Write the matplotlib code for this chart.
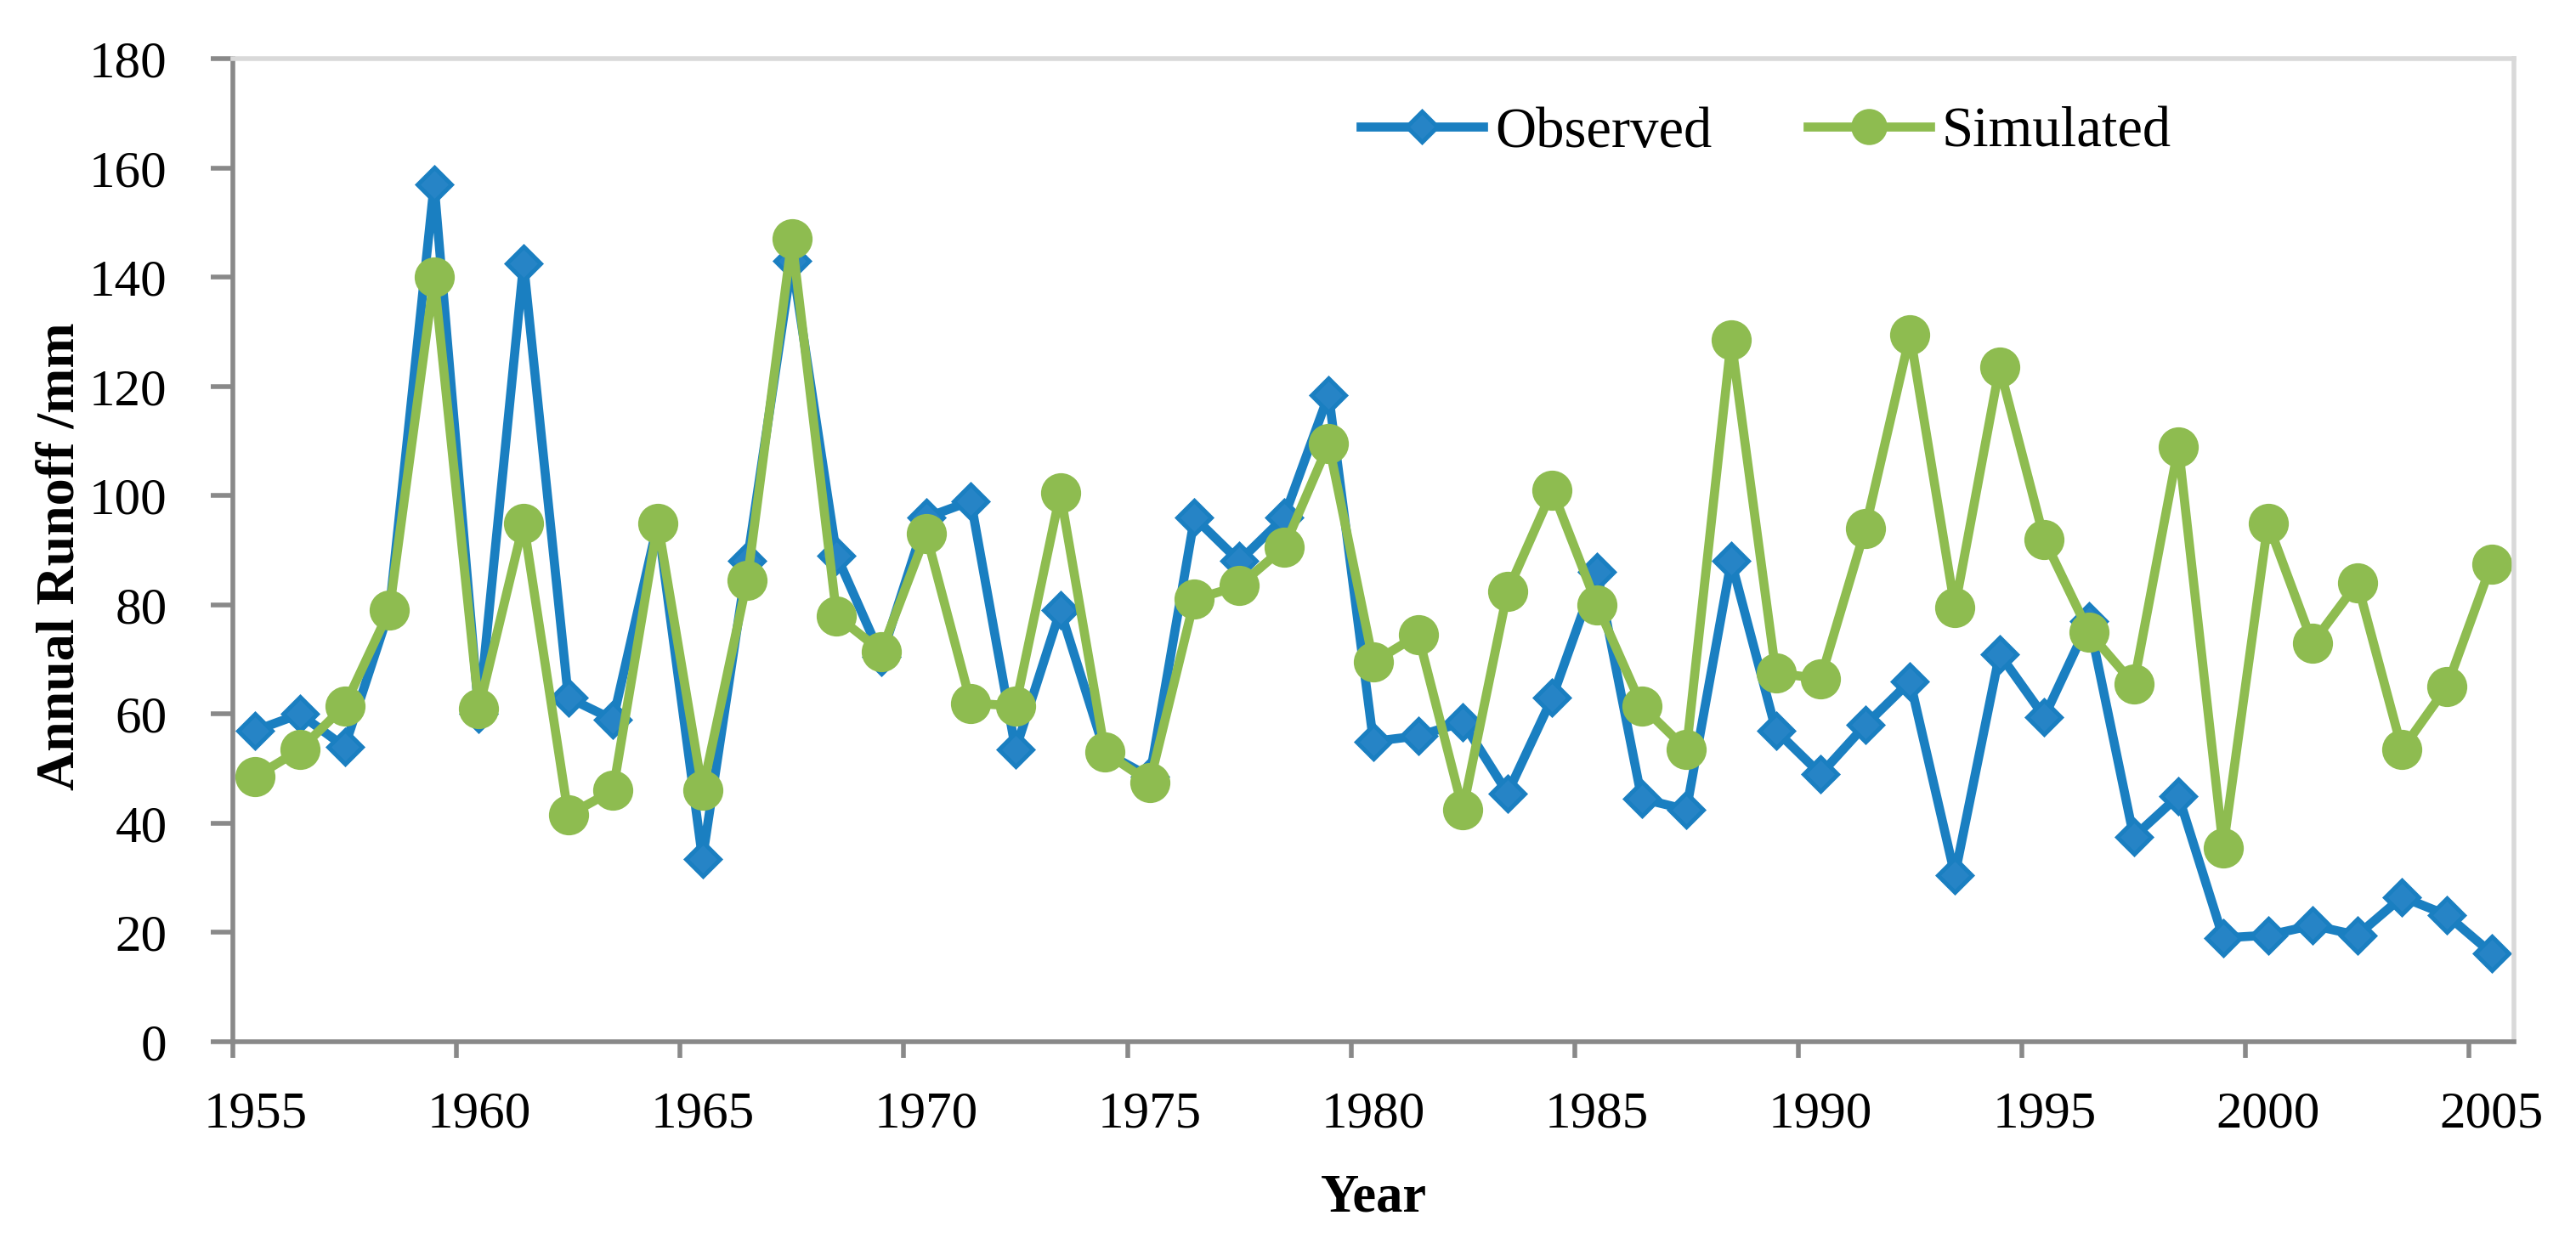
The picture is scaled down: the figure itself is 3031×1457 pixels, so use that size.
import matplotlib
matplotlib.use("Agg")
import matplotlib.pyplot as plt
from matplotlib.ticker import FixedLocator, FixedFormatter, NullFormatter

plt.rcParams['font.family'] = ['Liberation Serif', 'DejaVu Serif']

# Annual runoff (mm)
years = list(range(1955, 2006))
observed = [57, 60, 54, 79, 157, 60, 142.5, 63, 59, 95,
            33.5, 88, 143, 89, 70.5, 96, 99, 53.5, 79, 53,
            48.5, 96, 88, 96, 118.5, 55, 56, 58.5, 45.5, 63,
            86, 44.5, 42.5, 88, 57, 49, 58, 66, 30.5, 71,
            59.5, 77, 37.5, 45, 19, 19.5, 21.3, 19.5, 26.5, 23.2,
            16.2]
simulated = [48.5, 53.5, 61.5, 79, 140, 61, 95, 41.5, 46, 95,
             46, 84.5, 147, 78, 71.5, 93, 62, 61.5, 100.5, 53,
             47.5, 81, 83.5, 90.5, 109.5, 69.5, 74.5, 42.5, 82.5, 101,
             80, 61.5, 53.5, 128.5, 67.5, 66.5, 94, 129.5, 79.5, 123.5,
             92, 75, 65.5, 109, 35.5, 95, 73, 84, 53.5, 65,
             87.5]
label_years = [1955, 1960, 1965, 1970, 1975, 1980, 1985, 1990, 1995, 2000, 2005]

blue = '#1A7FC1'
green = '#8EBC50'
axis_grey = '#898989'

fig = plt.figure(figsize=(15.155, 7.285), dpi=200)
ax = fig.add_axes([0.0904, 0.1586, 0.8855, 0.7938])

ax.plot(years, observed, color=blue, lw=3.85, marker='D', ms=10.2,
        mfc='#2684C6', mec=blue, mew=1.8, label='Observed')
ax.plot(years, simulated, color=green, lw=3.85, marker='o', ms=17,
        mfc=green, mec=green, mew=0, label='Simulated')

ax.set_xlim(years[0] - 0.5, years[-1] + 0.5)
ax.set_ylim(0, 180)

# category-style x axis: tick marks between categories, labels on categories
ax.xaxis.set_major_locator(FixedLocator([y - 0.5 for y in label_years]))
ax.xaxis.set_major_formatter(NullFormatter())
ax.xaxis.set_minor_locator(FixedLocator(label_years))
ax.xaxis.set_minor_formatter(FixedFormatter([str(y) for y in label_years]))
ax.tick_params(axis='x', which='major', direction='out', length=7,
               width=2, color=axis_grey)
ax.tick_params(axis='x', which='minor', length=0, pad=21, labelsize=22)

ax.set_yticks(range(0, 181, 20))
ax.tick_params(axis='y', direction='out', length=9.4, width=2,
               color=axis_grey, pad=18.5, labelsize=22)

for side in ['left', 'bottom']:
    ax.spines[side].set_color(axis_grey)
    ax.spines[side].set_linewidth(2)
for side in ['top', 'right']:
    ax.spines[side].set_color('#D9D9D9')
    ax.spines[side].set_linewidth(2)

fig.text(87 / 3031, 1 - 655 / 1457, 'Annual Runoff /mm', rotation=90,
         rotation_mode='anchor', ha='center', va='baseline',
         fontsize=23, fontweight='bold')
fig.text(0.5332, 1 - 1425 / 1457, 'Year', ha='center', va='baseline',
         fontsize=22.5, fontweight='bold')

ax.legend(loc='center', bbox_to_anchor=(2078 / 3031, 1 - 156 / 1457),
          bbox_transform=fig.transFigure, ncol=2, frameon=False,
          fontsize=24, handlelength=2.16, handletextpad=0.21,
          columnspacing=1.68, borderpad=0, markerscale=0.9)

fig.savefig('out.png', dpi=200)
